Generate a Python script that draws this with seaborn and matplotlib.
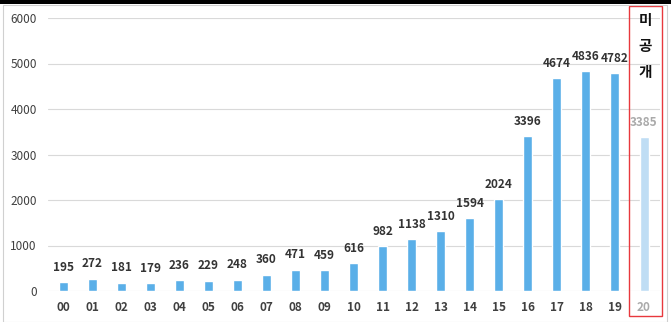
import matplotlib
matplotlib.use("Agg")
import matplotlib.pyplot as plt
from matplotlib.patches import Rectangle
import seaborn as sns

years = ["00", "01", "02", "03", "04", "05", "06", "07", "08", "09", "10",
         "11", "12", "13", "14", "15", "16", "17", "18", "19", "20"]
counts = [195, 272, 181, 179, 236, 229, 248, 360, 471, 459, 616,
          982, 1138, 1310, 1594, 2024, 3396, 4674, 4836, 4782, 3385]
yticks = [0, 1000, 2000, 3000, 4000, 5000, 6000]
note = "미\n공\n개"

BLUE = "#5AAFE8"
PALE = "#BFDDF4"
colors = [BLUE] * (len(years) - 1) + [PALE]

sns.set_theme(style="white")
plt.rcParams["font.family"] = ["Noto Sans CJK KR", "DejaVu Sans"]

fig = plt.figure(figsize=(6.71, 3.22), dpi=100)
ax = fig.add_axes([48 / 671, (322 - 291) / 322, (660 - 48) / 671, (291 - 18) / 322])

sns.barplot(x=years, y=counts, hue=years, palette=colors, legend=False,
            width=0.31, saturation=1, ax=ax)

ax.set_ylim(0, 6000)
ax.set_xlim(-0.52, 20.55)
ax.set_yticks(yticks)
ax.set_yticklabels([str(v) for v in yticks], fontsize=8.5, color="#404040")
ax.yaxis.grid(True, color="#D9D9D9", linewidth=0.8)
ax.set_axisbelow(True)
for s in ax.spines.values():
    s.set_visible(False)
ax.tick_params(axis="y", length=0, pad=8)
ax.tick_params(axis="x", length=0, pad=7)
ax.set_xticks(range(len(years)))
ax.set_xticklabels(years, fontsize=8.5, fontweight="bold")
for i, lbl in enumerate(ax.get_xticklabels()):
    lbl.set_color("#AAAAAA" if i == len(years) - 1 else "#404040")
ax.set_xlabel("")
ax.set_ylabel("")

for i, v in enumerate(counts):
    last = i == len(counts) - 1
    ax.annotate(str(v), (i, v), xytext=(0, 6), textcoords="offset points",
                ha="center", va="bottom", fontsize=8.5, fontweight="bold",
                color="#AAAAAA" if last else "#333333")

# vertical note above the unpublished year
fig.text(645 / 671, 1 - 46 / 322, note, ha="center", va="center",
         fontsize=10.5, fontweight="bold", color="#111111", linespacing=1.75)

# red frame around the last year
fig.add_artist(Rectangle((629 / 671, 1 - 316 / 322), 33 / 671, 310 / 322,
                         transform=fig.transFigure, fill=False,
                         edgecolor="#E8383D", linewidth=1.0))

# dark band along the top edge and thin outer frame
fig.add_artist(Rectangle((0, 1 - 4 / 322), 1, 4 / 322, transform=fig.transFigure,
                         facecolor="black", edgecolor="none"))
fig.add_artist(Rectangle((3 / 671, 0.5 / 322), 664 / 671, 1 - 5 / 322,
                         transform=fig.transFigure, fill=False,
                         edgecolor="#D0D0D0", linewidth=0.8))

fig.savefig("out.png", dpi=100)
